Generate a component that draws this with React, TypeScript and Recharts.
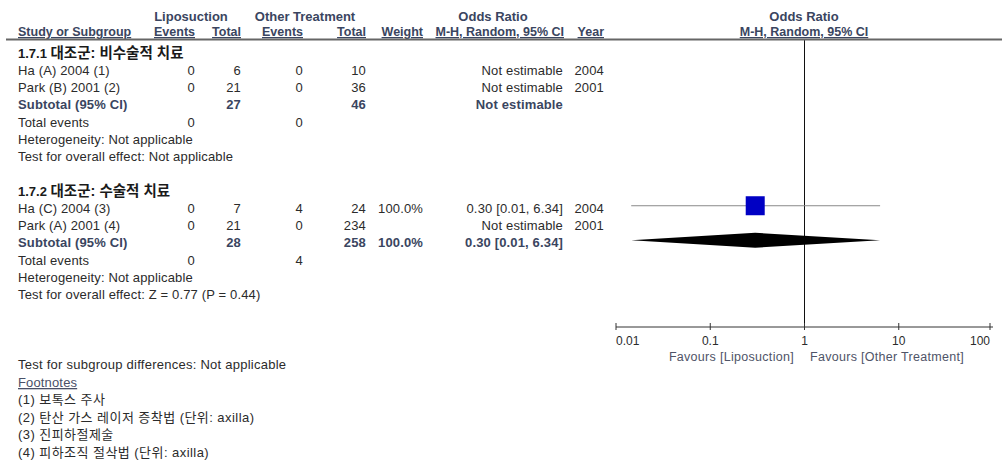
import { ComposedChart, XAxis, YAxis, Scatter, ReferenceLine } from "recharts";

const FONT = '"Liberation Sans", Arial, "Noto Sans CJK KR", sans-serif';
const HEAD = "#3a4560";
const TEXT = "#2b2b2b";

// groups
const groupTitles = ["1.7.1 대조군: 비수술적 치료", "1.7.2 대조군: 수술적 치료"];
const groupSizes = [2, 2];

// studies
const studyNames = ["Ha (A) 2004 (1)", "Park (B) 2001 (2)", "Ha (C) 2004 (3)", "Park (A) 2001 (4)"];
const lipoEvents = [0, 0, 0, 0];
const lipoTotal = [6, 21, 7, 21];
const otherEvents = [0, 0, 4, 0];
const otherTotal = [10, 36, 24, 234];
const studyWeight: (number | null)[] = [null, null, 100, null];
const studyOR: (number | null)[] = [null, null, 0.3, null];
const studyLow: (number | null)[] = [null, null, 0.0145, null];
const studyHigh: (number | null)[] = [null, null, 6.34, null];
const studyYear = [2004, 2001, 2004, 2001];

// subtotals
const subLipoTotal = [27, 28];
const subOtherTotal = [46, 258];
const subWeight: (number | null)[] = [null, 100];
const subOR: (number | null)[] = [null, 0.3];
const subLow: (number | null)[] = [null, 0.0145];
const subHigh: (number | null)[] = [null, 6.34];
const totEventsLipo = [0, 0];
const totEventsOther = [0, 4];
const heterogeneity = ["Not applicable", "Not applicable"];
const overallEffect = ["Not applicable", "Z = 0.77 (P = 0.44)"];

const axisTicks = [0.01, 0.1, 1, 10, 100];
const favours = ["Favours [Liposuction]", "Favours [Other Treatment]"];
const subgroupTest = "Test for subgroup differences: Not applicable";
const footnotes = [
  "(1) 보톡스 주사",
  "(2) 탄산 가스 레이저 증착법 (단위: axilla)",
  "(3) 진피하절제술",
  "(4) 피하조직 절삭법 (단위: axilla)",
];

// column right edges
const COL = { le: 195, lt: 241, oe: 303, ot: 366, w: 423, or: 563, yr: 604 };
const baseY = (r: number) => 57.5 + 17.25 * r;

const fmtCI = (o: number | null, l: number | null, h: number | null) =>
  o == null ? "Not estimable" : `${o.toFixed(2)} [${l!.toFixed(2)}, ${h!.toFixed(2)}]`;
const fmtW = (w: number | null) => (w == null ? "" : `${w.toFixed(1)}%`);

// assign rows
type Row = { r: number; idx: number };
const studyRows: Row[] = [];
const subRows: number[] = [];
let si = 0;
groupSizes.forEach((n, g) => {
  const start = g * 8;
  for (let k = 0; k < n; k++) studyRows.push({ r: start + 1 + k, idx: si++ });
  subRows.push(start + 1 + n);
});

function AxisTick(props: any) {
  const { x, y, payload } = props;
  const v = payload.value;
  const anchor = v === axisTicks[0] ? "start" : v === axisTicks[axisTicks.length - 1] ? "end" : "middle";
  return (
    <g>
      <line x1={x} x2={x} y1={y - 4} y2={y + 3} stroke="#333" />
      <text x={x} y={y + 18} textAnchor={anchor} fontSize={12} fill={TEXT} style={{ fontFamily: FONT }}>
        {String(v)}
      </text>
    </g>
  );
}

function T(p: {
  x: number;
  y: number;
  a?: "start" | "middle" | "end";
  b?: boolean;
  c?: string;
  u?: boolean;
  s?: number;
  ls?: number;
  children: any;
}) {
  return (
    <text
      x={p.x}
      y={p.y}
      textAnchor={p.a ?? "end"}
      fontSize={p.s ?? 13}
      fontWeight={p.b ? "bold" : "normal"}
      fill={p.c ?? TEXT}
      textDecoration={p.u ? "underline" : undefined}
      style={{ fontFamily: FONT, letterSpacing: p.ls ?? 0.15 }}
    >
      {p.children}
    </text>
  );
}

function GroupTitle({ y, title }: { y: number; title: string }) {
  const cut = title.indexOf(" ");
  return (
    <text x={18} y={y} fontWeight="bold" fill="#1a1a1a" fontSize={13} style={{ fontFamily: FONT }}>
      {title.slice(0, cut + 1)}
      <tspan fontSize={14.5}>{title.slice(cut + 1)}</tspan>
    </text>
  );
}

export default function App() {
  const squares = studyRows
    .filter((s) => studyOR[s.idx] != null)
    .map((s) => ({ x: studyOR[s.idx], r: s.r, w: studyWeight[s.idx] }));

  return (
    <div style={{ position: "absolute", left: 0, top: 0, width: 1002, height: 464, background: "#fff" }}>
      <ComposedChart width={1002} height={464} margin={{ top: 39, right: 9, bottom: 107, left: 616 }}>
        <XAxis
          type="number"
          dataKey="x"
          scale="log"
          domain={[0.01, 100]}
          ticks={axisTicks}
          allowDataOverflow
          height={30}
          stroke="#333"
          tickLine={false}
          tickSize={0}
          tickMargin={0}
          tick={<AxisTick />}
        />
        <YAxis type="number" dataKey="r" domain={[-0.667, 16.03]} reversed hide allowDataOverflow />
        <ReferenceLine x={1} stroke="#111" strokeWidth={1} />
        {studyRows
          .filter((s) => studyOR[s.idx] != null)
          .map((s) => (
            <Scatter
              key={`ci${s.idx}`}
              data={[
                { x: studyLow[s.idx], r: s.r },
                { x: studyHigh[s.idx], r: s.r },
              ]}
              line={{ stroke: "#8a8a8a", strokeWidth: 1 }}
              shape={() => <g />}
              isAnimationActive={false}
            />
          ))}
        <Scatter
          data={squares}
          isAnimationActive={false}
          shape={(p: any) => {
            const size = 19 * Math.sqrt((p.payload.w ?? 0) / 100);
            return <rect x={p.cx - size / 2} y={p.cy - size / 2} width={size} height={size} fill="#0000c4" />;
          }}
        />
        {subRows.map((r, g) =>
          subOR[g] == null ? null : (
            <Scatter
              key={`d${g}`}
              data={[
                { x: subLow[g], r },
                { x: subOR[g], r },
                { x: subHigh[g], r },
              ]}
              isAnimationActive={false}
              shape={() => <g />}
              line={(lp: any) => {
                const [a, b, c] = lp.points;
                return (
                  <polygon
                    points={`${a.x},${a.y} ${b.x},${b.y - 7.5} ${c.x},${c.y} ${b.x},${b.y + 7.5}`}
                    fill="#000"
                  />
                );
              }}
            />
          )
        )}
      </ComposedChart>
      <svg width={1002} height={464} style={{ position: "absolute", left: 0, top: 0, pointerEvents: "none" }}>
        {/* header */}
        <T x={191} y={21} a="middle" b c={HEAD} ls={0}>Liposuction</T>
        <T x={305} y={21} a="middle" b c={HEAD} ls={0}>Other Treatment</T>
        <T x={493} y={21} a="middle" b c={HEAD} ls={0}>Odds Ratio</T>
        <T x={804} y={21} a="middle" b c={HEAD} ls={0}>Odds Ratio</T>
        <T x={18} y={36} a="start" b u c={HEAD} s={12.5} ls={0}>Study or Subgroup</T>
        <T x={COL.le} y={36} b u c={HEAD} s={12.5} ls={0}>Events</T>
        <T x={COL.lt} y={36} b u c={HEAD} s={12.5} ls={0}>Total</T>
        <T x={COL.oe} y={36} b u c={HEAD} s={12.5} ls={0}>Events</T>
        <T x={COL.ot} y={36} b u c={HEAD} s={12.5} ls={0}>Total</T>
        <T x={COL.w} y={36} b u c={HEAD} s={12.5} ls={0}>Weight</T>
        <T x={COL.or + 1} y={36} b u c={HEAD} s={12.5} ls={0}>M-H, Random, 95% CI</T>
        <T x={COL.yr} y={36} b u c={HEAD} s={12.5} ls={0}>Year</T>
        <T x={804} y={36} a="middle" b u c={HEAD} s={12.5} ls={0}>M-H, Random, 95% CI</T>
        <line x1={6} x2={1002} y1={39.5} y2={39.5} stroke="#666" strokeWidth={2} />

        {groupTitles.map((t, g) => {
          const r0 = g * 8;
          const rs = subRows[g];
          return (
            <g key={t}>
              <GroupTitle y={baseY(r0)} title={t} />
              <T x={18} y={baseY(rs)} a="start" b c={HEAD}>Subtotal (95% CI)</T>
              <T x={COL.lt} y={baseY(rs)} b c={HEAD}>{subLipoTotal[g]}</T>
              <T x={COL.ot} y={baseY(rs)} b c={HEAD}>{subOtherTotal[g]}</T>
              <T x={COL.w} y={baseY(rs)} b c={HEAD}>{fmtW(subWeight[g])}</T>
              <T x={COL.or} y={baseY(rs)} b c={HEAD}>{fmtCI(subOR[g], subLow[g], subHigh[g])}</T>
              <T x={18} y={baseY(rs + 1)} a="start">Total events</T>
              <T x={COL.le} y={baseY(rs + 1)}>{totEventsLipo[g]}</T>
              <T x={COL.oe} y={baseY(rs + 1)}>{totEventsOther[g]}</T>
              <T x={18} y={baseY(rs + 2)} a="start">{`Heterogeneity: ${heterogeneity[g]}`}</T>
              <T x={18} y={baseY(rs + 3)} a="start">{`Test for overall effect: ${overallEffect[g]}`}</T>
            </g>
          );
        })}
        {studyRows.map(({ r, idx }) => (
          <g key={idx}>
            <T x={18} y={baseY(r)} a="start">{studyNames[idx]}</T>
            <T x={COL.le} y={baseY(r)}>{lipoEvents[idx]}</T>
            <T x={COL.lt} y={baseY(r)}>{lipoTotal[idx]}</T>
            <T x={COL.oe} y={baseY(r)}>{otherEvents[idx]}</T>
            <T x={COL.ot} y={baseY(r)}>{otherTotal[idx]}</T>
            <T x={COL.w} y={baseY(r)}>{fmtW(studyWeight[idx])}</T>
            <T x={COL.or} y={baseY(r)}>{fmtCI(studyOR[idx], studyLow[idx], studyHigh[idx])}</T>
            <T x={COL.yr} y={baseY(r)}>{studyYear[idx]}</T>
          </g>
        ))}

        <T x={794} y={361} s={12.5} ls={0.3} c="#4f5468">{favours[0]}</T>
        <T x={810} y={361} a="start" s={12.5} ls={0.3} c="#4f5468">{favours[1]}</T>

        <T x={18} y={369} a="start" ls={0.25}>{subgroupTest}</T>
        <T x={18} y={387} a="start" u c="#4a5068">Footnotes</T>
        {footnotes.map((f, i) => (
          <T key={f} x={18} y={404 + i * 17.6} a="start" ls={0.45}>{f}</T>
        ))}
      </svg>
    </div>
  );
}
